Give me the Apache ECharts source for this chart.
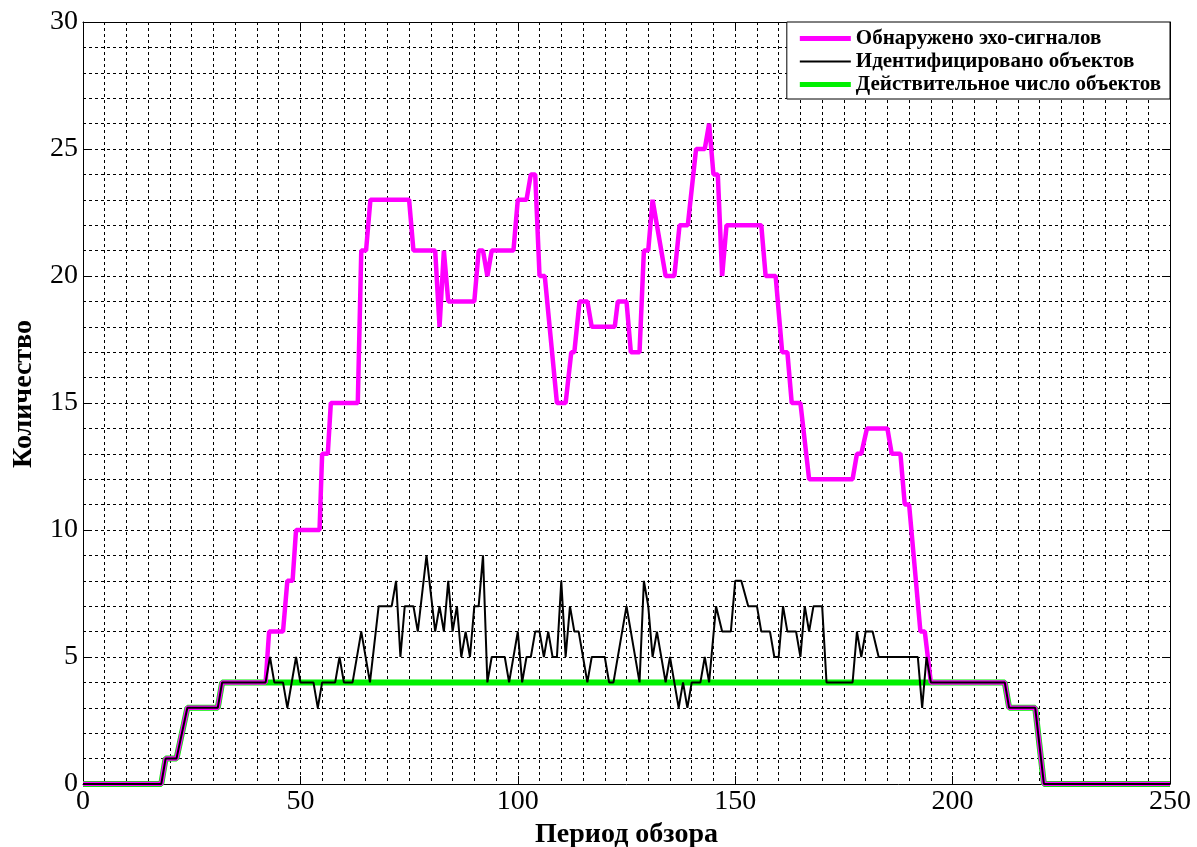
<!DOCTYPE html>
<html>
<head>
<meta charset="utf-8">
<script src="https://cdn.jsdelivr.net/npm/echarts@6/dist/echarts.min.js"></script>
<style>html,body{margin:0;padding:0;background:#fff}#c{width:1197px;height:847px}</style>
</head>
<body>
<div id="c"></div>
<script>
// Series names
const seriesNames = ['Обнаружено эхо-сигналов', 'Идентифицировано объектов', 'Действительное число объектов'];
const xAxisTitle = 'Период обзора';
const yAxisTitle = 'Количество';

// Magenta: detected echo signals, vertices [period, count]
const echoSignals = [[0,0],[18,0],[19,1],[21.5,1],[24,3],[31,3],[32,4],[42,4],[42.8,6],[46,6],[47,8],[48.2,8],[49,10],[54.4,10],[55,13],[56.3,13],[57,15],[63.2,15],[64,21],[65.1,21],[66.1,23],[75,23],[76,21],[81,21],[82,18],[83,21],[84,19],[90,19],[91,21],[92,21],[93,20],[94,21],[99,21],[100,23],[102,23],[103,24],[104,24],[105,20],[106.2,20],[109,15],[111,15],[112.3,17],[113,17],[114.2,19],[116,19],[117,18],[122.3,18],[123,19],[125,19],[126,17],[128,17],[129,21],[130,21],[131,23],[134,20],[136,20],[137.2,22],[139.1,22],[141,25],[143,25],[144,26],[145,24],[146,24],[147,20],[148,22],[156,22],[157,20],[159.3,20],[160.8,17],[162,17],[163,15],[165,15],[167,12],[177,12],[178,13],[179,13],[180.3,14],[185,14],[186,13],[188,13],[189,11],[190,11],[192.6,6],[193.6,6],[195,4],[212,4],[213,3],[219,3],[221,0],[250,0]];

// Black: identified objects
const identified = [[0,0],[18,0],[19,1],[21.5,1],[24,3],[31,3],[32,4],[42,4],[43,5],[44,4],[46,4],[47,3],[49,5],[50,4],[53,4],[54,3],[55,4],[58,4],[59,5],[60,4],[62,4],[64,6],[66,4],[68,7],[71,7],[72,8],[73,5],[74,7],[76,7],[77,6],[79,9],[81,6],[82,7],[83,6],[84,8],[85,6],[86,7],[87,5],[88,6],[89,5],[90,7],[91,7],[92,9],[93,4],[94,5],[97,5],[98,4],[100,6],[101,4],[102,5],[103,5],[104,6],[105,6],[106,5],[107,6],[108,5],[109,5],[110,8],[111,5],[112,7],[113,6],[114,6],[116,4],[117,5],[120,5],[121,4],[122,4],[125,7],[128,4],[129,8],[130,7],[131,5],[132,6],[134,4],[135,5],[137,3],[138,4],[139,3],[140,4],[142,4],[143,5],[144,4],[145.6,7],[147,6],[149,6],[150,8],[151.4,8],[153,7],[155,7],[156,6],[158,6],[159,5],[160,5],[161,7],[162,6],[164,6],[165,5],[166,7],[167,6],[168,7],[170,7],[171,4],[177,4],[178,6],[179,5],[180,6],[181.6,6],[183,5],[192,5],[193,3],[194,5],[195,4],[212,4],[213,3],[219,3],[221,0],[250,0]];

// Green: actual number of objects
const actual = [[0,0],[18,0],[19,1],[21.5,1],[24,3],[31,3],[32,4],[212,4],[213,3],[219,3],[221,0],[250,0]];

const xMin = 0, xMax = 250, xInterval = 50;
const yMin = 0, yMax = 30, yInterval = 5;

const FONT = '"Liberation Serif", "Times New Roman", serif';
const dashed = {show: true, lineStyle: {color: '#000', width: 1, type: [3, 3]}};
const thickIcon = 'path://M0,0H51V5H0Z';
const thinIcon = 'path://M0,0H51V2H0Z';

const chart = echarts.init(document.getElementById('c'), null, {renderer: 'canvas'});
const baseX = {
  type: 'value', min: xMin, max: xMax, interval: xInterval,
  axisLine: {show: true, onZero: false, lineStyle: {color: '#000', width: 1}},
  axisTick: {show: true, inside: true, length: 8, lineStyle: {color: '#000'}},
  minorTick: {show: false, splitNumber: 10},
};
const baseY = {
  type: 'value', min: yMin, max: yMax, interval: yInterval,
  axisLine: {show: true, onZero: false, lineStyle: {color: '#000', width: 1}},
  axisTick: {show: true, inside: true, length: 8, lineStyle: {color: '#000'}},
  minorTick: {show: false, splitNumber: 5},
};
chart.setOption({
  animation: false,
  backgroundColor: '#fff',
  grid: {left: 83, right: 27, top: 22, bottom: 63, containLabel: false, outerBoundsMode: 'none'},
  legend: {
    orient: 'vertical', right: 27, top: 22,
    data: [
      {name: seriesNames[0], icon: thickIcon},
      {name: seriesNames[1], icon: thinIcon},
      {name: seriesNames[2], icon: thickIcon}
    ],
    symbolKeepAspect: true,
    backgroundColor: '#fff', borderColor: '#000', borderWidth: 1,
    padding: [6, 9, 4, 13], itemGap: 2, itemWidth: 51, itemHeight: 14,
    textStyle: {fontFamily: FONT, fontWeight: 'bold', fontSize: 21, color: '#000'},
    selectedMode: false
  },
  xAxis: [
    Object.assign({}, baseX, {
      position: 'bottom',
      name: xAxisTitle, nameLocation: 'middle', nameGap: 34,
      nameTextStyle: {fontFamily: FONT, fontWeight: 'bold', fontSize: 28, color: '#000'},
      axisLabel: {fontFamily: FONT, fontSize: 28, color: '#000', margin: 4},
      splitLine: dashed, minorSplitLine: dashed
    }),
    Object.assign({}, baseX, {position: 'top', axisLabel: {show: false}, splitLine: {show: false}})
  ],
  yAxis: [
    Object.assign({}, baseY, {
      position: 'left',
      name: yAxisTitle, nameLocation: 'middle', nameGap: 45, nameRotate: 90,
      nameTextStyle: {fontFamily: FONT, fontWeight: 'bold', fontSize: 28, color: '#000', padding: [0, 0, 0, 18]},
      axisLabel: {fontFamily: FONT, fontSize: 28, color: '#000', margin: 5},
      splitLine: dashed, minorSplitLine: dashed
    }),
    Object.assign({}, baseY, {position: 'right', axisLabel: {show: false}, splitLine: {show: false}})
  ],
  series: [
    {name: seriesNames[2], type: 'line', data: actual, showSymbol: false, symbol: 'none', z: 2,
     lineStyle: {color: '#00f000', width: 6}, itemStyle: {color: '#00f000'}},
    {name: seriesNames[0], type: 'line', data: echoSignals, showSymbol: false, symbol: 'none', z: 3,
     lineStyle: {color: '#ff00ff', width: 4.5}, itemStyle: {color: '#ff00ff'}},
    {name: seriesNames[1], type: 'line', data: identified, showSymbol: false, symbol: 'none', z: 4,
     lineStyle: {color: '#000', width: 2}, itemStyle: {color: '#000'}}
  ]
});
</script>
</body>
</html>
